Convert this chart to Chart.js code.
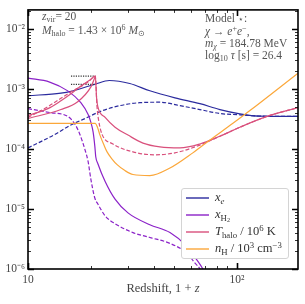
<!DOCTYPE html>
<html lang="en">
<head>
<meta charset="UTF-8" />
<title>Halo chemistry vs redshift</title>
<script src="https://cdn.jsdelivr.net/npm/chart.js"></script>
<style>
  body { margin: 0; background: #fff; }
  .wrap { position: relative; width: 305px; height: 304px; font-family: "Liberation Serif", serif; color: #444; }
  canvas { position: absolute; left: 0; top: 0; }
  .ln { position: absolute; font-size: 11.5px; line-height: 12px; white-space: nowrap; color: #555; }
  sub, sup { font-size: 70%; line-height: 0; vertical-align: baseline; position: relative; }
  sub { top: 0.3em; }
  sup { top: -0.45em; }
  .legend {
    position: absolute; left: 181px; top: 188px; width: 106px; height: 69px;
    background: #fff; border: 1px solid #d4d4d4; border-radius: 3px; font-size: 12.5px; color: #333;
  }
  .legend .row { position: relative; height: 17px; line-height: 17px; padding-left: 33px; white-space: nowrap; }
  .legend .sw { position: absolute; left: 4px; top: 8px; width: 23px; height: 2px; opacity: 0.7; }
  .xlabel { position: absolute; left: 0; width: 326px; top: 281px; text-align: center; font-size: 12.5px; color: #444; }
</style>
</head>
<body>
<div class="wrap">
  <canvas id="chart" width="305" height="304"></canvas>

  <div class="ln" style="left:42px; top:10px;"><i>z</i><sub>vir</sub>= 20</div>
  <div class="ln" style="left:42px; top:24px;"><i>M</i><sub>halo</sub> = 1.43 × 10<sup>6</sup> <i>M</i><sub>⊙</sub></div>

  <div class="ln" style="left:205px; top:12px;">Model <span style="font-size:80%">⋆</span>:</div>
  <div class="ln" style="left:205px; top:25px;"><i>χ</i> → <i>e</i><sup>+</sup><i>e</i><sup>−</sup>,</div>
  <div class="ln" style="left:205px; top:37px;"><i>m</i><sub><i>χ</i></sub> = 184.78 MeV</div>
  <div class="ln" style="left:205px; top:49px;">log<sub>10</sub> <i>τ</i> [s] = 26.4</div>

  <div class="legend">
    <div class="row"><span class="sw" style="background:#2b2b9e"></span><i>x<sub>e</sub></i></div>
    <div class="row"><span class="sw" style="background:#8b22c8"></span><i>x</i><sub>H<sub>2</sub></sub></div>
    <div class="row"><span class="sw" style="background:#d9507c"></span><i>T</i><sub>halo</sub> / 10<sup>6</sup> K</div>
    <div class="row"><span class="sw" style="background:#fba73a"></span><i>n</i><sub>H</sub> / 10<sup>3</sup> cm<sup>−3</sup></div>
  </div>

  <div class="xlabel">Redshift, 1 + <i>z</i></div>
</div>

<script>
  // redshift (1+z) grids and values
  const xeZ = [10, 14.38, 16.06, 19.8, 21.0, 24.5, 30.7, 38.3, 50.5, 66.5, 82.9, 103.3, 128.8, 196];
  const xeSolid = [7.7e-4, 8.5e-4, 9.1e-4, 1.13e-3, 1.2e-3, 1.38e-3, 1.23e-3, 9.3e-4, 7.1e-4, 5.67e-4, 4.53e-4, 3.85e-4, 3.52e-4, 3.48e-4];

  const xeDashZ = [10, 11.4, 13.5, 15.9, 18.8, 22.1, 27.5, 34.3, 42.8, 53.4, 66.5, 82.9, 103.3, 128.8, 196];
  const xeDash = [1.04e-4, 1.30e-4, 1.76e-4, 2.47e-4, 3.22e-4, 4.19e-4, 5.26e-4, 5.89e-4, 6.0e-4, 5.26e-4, 4.53e-4, 3.89e-4, 3.7e-4, 3.52e-4, 3.48e-4];

  const h2Z = [10, 12.7, 15.5, 17.9, 19.4, 20.0, 20.5, 20.9, 21.1, 21.6, 23.4, 26.1, 30.1, 38.3, 47.8, 57.6, 64.4, 68.7, 71.8];
  const h2Solid = [1.51e-3, 1.30e-3, 9.27e-4, 5.89e-4, 3.75e-4, 2.77e-4, 1.90e-4, 1.08e-4, 7.4e-5, 5.68e-5, 2.88e-5, 1.46e-5, 8.6e-6, 5.47e-6, 4.04e-6, 2.38e-6, 1.41e-6, 1.0e-6, 7.1e-7];

  const h2DashZ = [10, 12.7, 15.5, 16.8, 17.7, 18.75, 19.4, 20.0, 20.9, 21.6, 23.4, 26.1, 31.8, 38.3, 47.8, 57.6, 63.0, 66.5, 69.5];
  const h2Dash = [4.70e-4, 4.04e-4, 3.48e-4, 2.57e-4, 1.76e-4, 9.64e-5, 6.12e-5, 3.10e-5, 1.51e-5, 1.21e-5, 7.68e-6, 5.68e-6, 4.04e-6, 3.35e-6, 2.67e-6, 1.83e-6, 1.25e-6, 1.0e-6, 6.6e-7];

  const tZ = [10, 12.46, 14.38, 16.06, 17.9, 19.8, 21.0, 21.3, 21.6, 23.4, 26.1, 30.1, 35.5, 42.8, 53.4, 66.5, 82.9, 103.3, 139.3, 196];
  const tSolid = [3.61e-4, 4.70e-4, 6.35e-4, 8.28e-4, 1.12e-3, 1.41e-3, 1.63e-3, 7.0e-4, 5.0e-4, 3.35e-4, 2.30e-4, 1.70e-4, 1.25e-4, 1.08e-4, 1.04e-4, 1.21e-4, 1.63e-4, 2.30e-4, 3.48e-4, 4.88e-4];

  const tDashZ = [10, 12.46, 16.06, 19.4, 21.0, 21.4, 21.87, 22.6, 25.5, 31.8, 40.5, 50.5, 66.5, 82.9, 103.3, 139.3, 196];
  const tDash = [3.35e-4, 5.07e-4, 8.93e-4, 1.30e-3, 1.63e-3, 5.0e-4, 2.77e-4, 1.76e-4, 1.21e-4, 8.93e-5, 7.98e-5, 8.6e-5, 1.16e-4, 1.63e-4, 2.30e-4, 3.48e-4, 4.88e-4];

  const tLowZ = [10, 14.38, 17.3, 20.0, 21.0];
  const tLow = [3.22e-4, 4.53e-4, 6.12e-4, 1.08e-3, 1.63e-3];

  const refZ = [16.06, 21.0];
  const refHigh = [1.63e-3, 1.63e-3];
  const refLow = [1.19e-3, 1.19e-3];

  const nZ = [10, 21.0, 21.5, 22.1, 23.1, 23.9, 25.2, 26.7, 29.1, 31.8, 38.3, 47.8, 61.5, 74.3, 95.7, 115.4, 196];
  const nH = [2.67e-4, 2.67e-4, 2.30e-4, 1.70e-4, 1.16e-4, 8.93e-5, 6.86e-5, 5.47e-5, 4.36e-5, 3.75e-5, 3.6e-5, 4.8e-5, 8.6e-5, 1.41e-4, 2.67e-4, 4.36e-4, 1.83e-3];

  const C_XE = '#2b2b9e', C_H2 = '#8b22c8', C_T = '#d9507c', C_N = '#fba73a';
  const SUP = { '-': '⁻', '0': '⁰', '1': '¹', '2': '²', '3': '³', '4': '⁴', '5': '⁵', '6': '⁶', '7': '⁷', '8': '⁸', '9': '⁹' };

  function pts(zs, vs) {
    return zs.map((z, i) => ({ x: z, y: vs[i] }));
  }

  function line(zs, vs, color, dash, width) {
    return {
      data: pts(zs, vs),
      borderColor: color,
      borderWidth: width || 1.2,
      borderDash: dash || [],
      pointRadius: 0,
      fill: false,
      cubicInterpolationMode: 'monotone'
    };
  }

  function powLabel(v, skipOne) {
    const e = Math.log10(v);
    if (Math.abs(e - Math.round(e)) > 1e-6) return '';
    const n = Math.round(e);
    if (n === 1 && skipOne) return '10';
    return '10' + String(n).split('').map(c => SUP[c]).join('');
  }

  // inward ticks on all four sides plus the frame
  const frameTicks = {
    id: 'frameTicks',
    afterDatasetsDraw(chart) {
      const { ctx, chartArea: a, scales } = chart;
      ctx.save();
      ctx.strokeStyle = '#000';
      const mark = (scale, horiz) => {
        const lo = Math.floor(Math.log10(scale.min)), hi = Math.ceil(Math.log10(scale.max));
        for (let e = lo; e <= hi; e++) {
          for (let m = 1; m < 10; m++) {
            const v = m * Math.pow(10, e);
            if (v < scale.min * 0.999 || v > scale.max * 1.001) continue;
            const p = Math.round(scale.getPixelForValue(v)) + 0.5;
            const len = m === 1 ? 6 : 3;
            ctx.lineWidth = m === 1 ? 1.6 : 0.8;
            ctx.beginPath();
            if (horiz) {
              ctx.moveTo(p, a.bottom); ctx.lineTo(p, a.bottom - len);
              ctx.moveTo(p, a.top); ctx.lineTo(p, a.top + len);
            } else {
              ctx.moveTo(a.left, p); ctx.lineTo(a.left + len, p);
              ctx.moveTo(a.right, p); ctx.lineTo(a.right - len, p);
            }
            ctx.stroke();
          }
        }
      };
      mark(scales.x, true);
      mark(scales.y, false);
      ctx.lineWidth = 1.6;
      ctx.strokeRect(a.left, a.top, a.right - a.left, a.bottom - a.top);
      ctx.restore();
    }
  };

  new Chart(document.getElementById('chart').getContext('2d'), {
    type: 'line',
    data: {
      datasets: [
        line(nZ, nH, C_N),
        line(tLowZ, tLow, C_T),
        line(tDashZ, tDash, C_T, [4, 2]),
        line(tZ, tSolid, C_T),
        line(refZ, refHigh, '#333', [1.2, 1.2], 1.1),
        line(refZ, refLow, '#333', [1.2, 1.2], 1.1),
        line(h2DashZ, h2Dash, C_H2, [4, 2]),
        line(h2Z, h2Solid, C_H2),
        line(xeDashZ, xeDash, C_XE, [4, 2]),
        line(xeZ, xeSolid, C_XE)
      ]
    },
    options: {
      responsive: false,
      devicePixelRatio: 1,
      animation: false,
      layout: { padding: { left: 0, right: 7, top: 5, bottom: 0 } },
      plugins: { legend: { display: false }, tooltip: { enabled: false } },
      scales: {
        x: {
          type: 'logarithmic',
          min: 10,
          max: 196,
          grid: { display: false, drawTicks: false },
          border: { display: false },
          ticks: {
            autoSkip: false,
            maxRotation: 0,
            padding: 4,
            color: '#444',
            font: { family: 'Liberation Serif', size: 11.5 },
            callback: v => powLabel(v, true)
          },
          afterFit(s) { s.height = 35; }
        },
        y: {
          type: 'logarithmic',
          min: 1e-6,
          max: 0.0207,
          grid: { display: false, drawTicks: false },
          border: { display: false },
          ticks: {
            autoSkip: false,
            padding: 3,
            color: '#444',
            font: { family: 'Liberation Serif', size: 11.5 },
            callback: v => powLabel(v, false)
          },
          afterFit(s) { s.width = 28; }
        }
      }
    },
    plugins: [frameTicks]
  });
</script>
</body>
</html>
